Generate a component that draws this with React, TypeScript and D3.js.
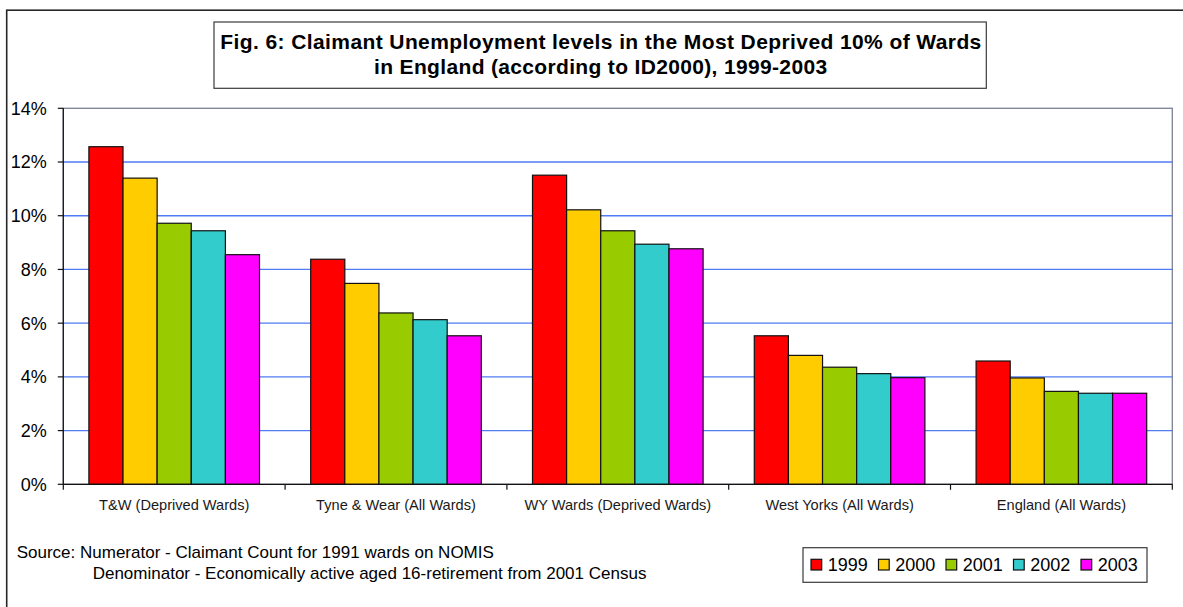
import React from "react";
import * as d3 from "d3";

// Claimant unemployment rates (%) by area and year
const categories = [
  "T&W (Deprived Wards)",
  "Tyne & Wear (All Wards)",
  "WY Wards (Deprived Wards)",
  "West Yorks (All Wards)",
  "England (All Wards)",
];
const years = ["1999", "2000", "2001", "2002", "2003"];
const values1999 = [12.57, 8.38, 11.51, 5.53, 4.59];
const values2000 = [11.4, 7.48, 10.22, 4.8, 3.96];
const values2001 = [9.72, 6.38, 9.44, 4.36, 3.46];
const values2002 = [9.44, 6.13, 8.94, 4.12, 3.39];
const values2003 = [8.55, 5.53, 8.77, 3.97, 3.39];
const yTicks = [0, 2, 4, 6, 8, 10, 12, 14];
const seriesColors = ["#FF0000", "#FFCC00", "#99CC00", "#33CCCC", "#FF00FF"];

const titleLines = [
  "Fig. 6: Claimant Unemployment levels in the Most Deprived 10% of Wards",
  "in England (according to ID2000), 1999-2003",
];
const sourceLines = [
  "Source: Numerator - Claimant Count for 1991 wards on NOMIS",
  "Denominator - Economically active aged 16-retirement from 2001 Census",
];

const FONT = "'Liberation Sans', Arial, Helvetica, sans-serif";

export default function App() {
  const W = 1183;
  const H = 607;
  const plot = { left: 63.3, right: 1172.3, top: 108.3, bottom: 484.3 };

  const series = [values1999, values2000, values2001, values2002, values2003];

  const x0 = d3
    .scaleBand<string>()
    .domain(categories)
    .range([plot.left, plot.right])
    .paddingInner(0)
    .paddingOuter(0);
  const x1 = d3
    .scaleBand<string>()
    .domain(years)
    .range([0, x0.bandwidth()])
    .paddingInner(0)
    .paddingOuter(0.75);
  const y = d3.scaleLinear().domain([0, 14]).range([plot.bottom, plot.top]);
  const color = d3.scaleOrdinal<string, string>().domain(years).range(seriesColors);

  const boundaries = [...categories.map((c) => x0(c) as number), plot.right];

  const legend = { x: 803, y: 547.7, w: 344, h: 34.6, itemStart: 811, itemStep: 67.5 };

  return (
    <svg
      width={W}
      height={H}
      viewBox={`0 0 ${W} ${H}`}
      style={{ position: "absolute", left: 0, top: 0, background: "#fff" }}
      fontFamily={FONT}
    >
      <rect x={0} y={0} width={W} height={H} fill="#fff" />
      {/* chart frame */}
      <rect x={6.7} y={10.2} width={W + 20} height={H + 20} fill="none" stroke="#262626" strokeWidth={1.6} />

      {/* title box */}
      <rect x={214} y={22} width={772.3} height={66.3} fill="#fff" stroke="#3a3a3a" strokeWidth={1.2} />
      <text
        x={600.8}
        y={49}
        textAnchor="middle"
        fontSize={21}
        fontWeight="bold"
        fill="#000"
        textLength={761}
        lengthAdjust="spacing"
      >
        {titleLines[0]}
      </text>
      <text
        x={600.6}
        y={74}
        textAnchor="middle"
        fontSize={21}
        fontWeight="bold"
        fill="#000"
        textLength={453}
        lengthAdjust="spacing"
      >
        {titleLines[1]}
      </text>

      {/* plot area */}
      <rect
        x={plot.left}
        y={plot.top}
        width={plot.right - plot.left}
        height={plot.bottom - plot.top}
        fill="#fff"
        stroke="#7b8096"
        strokeWidth={1.3}
      />
      {yTicks
        .filter((t) => t > 0 && t < 14)
        .map((t) => (
          <line
            key={`g${t}`}
            x1={plot.left}
            x2={plot.right}
            y1={y(t)}
            y2={y(t)}
            stroke="#4f7cf4"
            strokeWidth={1.3}
          />
        ))}

      {/* bars */}
      {categories.map((cat, ci) => (
        <g key={cat} transform={`translate(${x0(cat)},0)`}>
          {years.map((yr, si) => {
            const v = series[si][ci];
            return (
              <rect
                key={yr}
                x={x1(yr)}
                y={y(v)}
                width={x1.bandwidth()}
                height={y(0) - y(v)}
                fill={color(yr)}
                stroke="#111"
                strokeWidth={1.2}
              />
            );
          })}
        </g>
      ))}

      {/* axes */}
      <line x1={plot.left} x2={plot.left} y1={plot.top} y2={plot.bottom} stroke="#111" strokeWidth={1.2} />
      <line x1={plot.left} x2={plot.right} y1={plot.bottom} y2={plot.bottom} stroke="#111" strokeWidth={1.2} />
      {yTicks.map((t) => (
        <g key={`t${t}`}>
          <line x1={plot.left - 5.5} x2={plot.left} y1={y(t)} y2={y(t)} stroke="#111" strokeWidth={1.2} />
          <text x={46.7} y={y(t) + 6.4} textAnchor="end" fontSize={18} fill="#000">
            {`${t}%`}
          </text>
        </g>
      ))}
      {boundaries.map((bx, i) => (
        <line key={`b${i}`} x1={bx} x2={bx} y1={plot.bottom} y2={plot.bottom + 5.5} stroke="#111" strokeWidth={1.2} />
      ))}
      {categories.map((cat) => (
        <text
          key={`l${cat}`}
          x={(x0(cat) as number) + x0.bandwidth() / 2}
          y={510}
          textAnchor="middle"
          fontSize={14.6}
          fill="#1a1a1a"
        >
          {cat}
        </text>
      ))}

      {/* source note */}
      <text x={16.7} y={558} fontSize={17} fill="#000">
        {sourceLines[0]}
      </text>
      <text x={92.7} y={579} fontSize={17} fill="#000">
        {sourceLines[1]}
      </text>

      {/* legend */}
      <rect x={legend.x} y={legend.y} width={legend.w} height={legend.h} fill="#fff" stroke="#3a3a3a" strokeWidth={1.2} />
      {years.map((yr, i) => {
        const lx = legend.itemStart + i * legend.itemStep;
        return (
          <g key={`lg${yr}`}>
            <rect x={lx} y={559.3} width={10.7} height={10.7} fill={color(yr)} stroke="#111" strokeWidth={1.2} />
            <text x={lx + 16.7} y={570.8} fontSize={18} fill="#000">
              {yr}
            </text>
          </g>
        );
      })}
    </svg>
  );
}
